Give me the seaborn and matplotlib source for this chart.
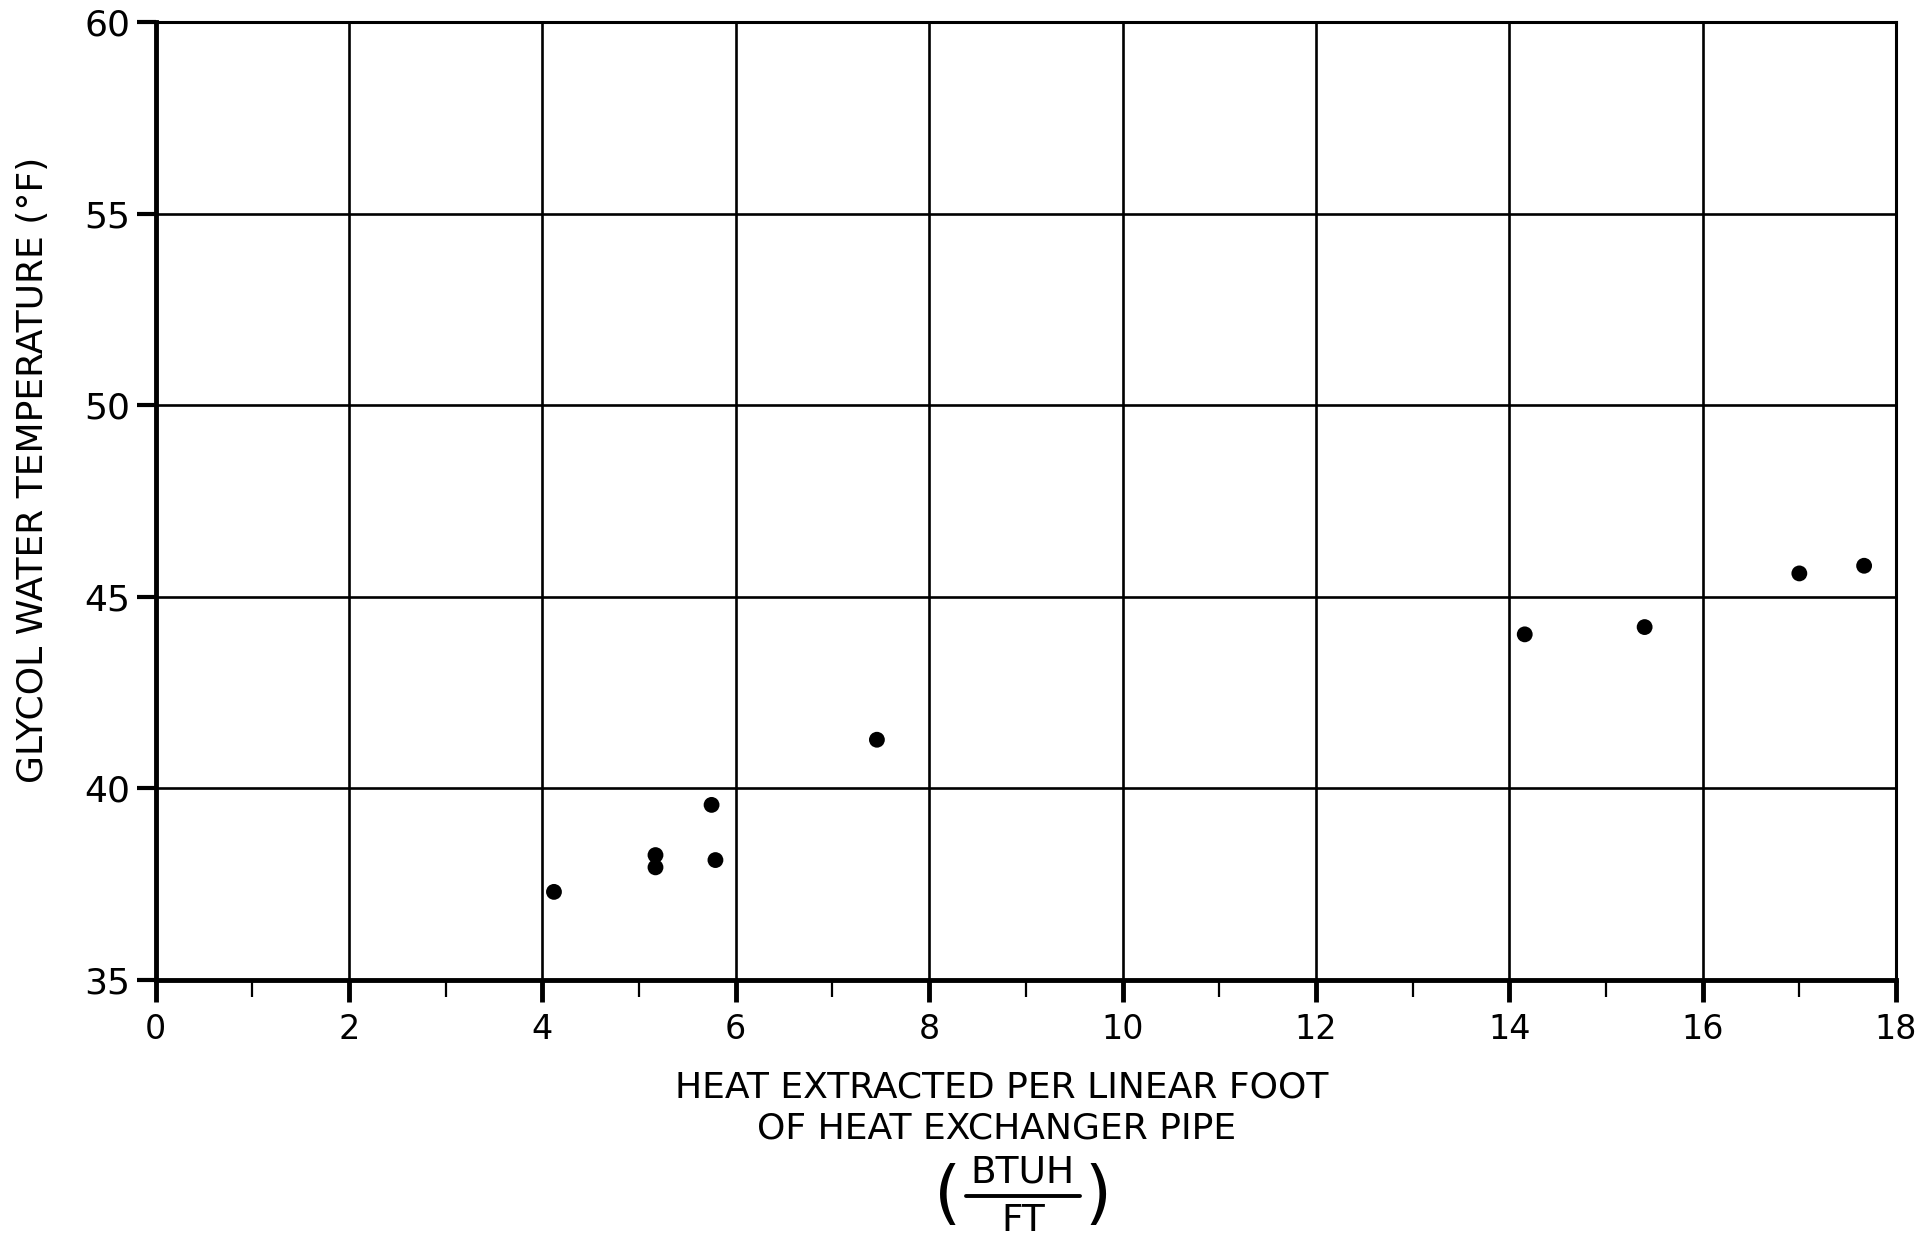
import matplotlib
matplotlib.use("Agg")
import matplotlib.pyplot as plt
import seaborn as sns
import pandas as pd
from matplotlib.lines import Line2D
from matplotlib.ticker import MultipleLocator

# heat extracted per linear foot (BTUH/FT) vs glycol water temperature (F)
heat_btuh_ft = [4.12, 5.17, 5.17, 5.75, 5.79, 7.46, 14.16, 15.40, 17.00, 17.67]
glycol_temp_f = [37.30, 38.26, 37.94, 39.57, 38.13, 41.27, 44.02, 44.21, 45.61, 45.81]

x_ticks = [0, 2, 4, 6, 8, 10, 12, 14, 16, 18]
x_tick_labels = ["0", "2", "4", "6", "8", "10", "12", "14", "16", "18"]
y_ticks = [35, 40, 45, 50, 55, 60]

df = pd.DataFrame({"heat": heat_btuh_ft, "temp": glycol_temp_f})

sns.set_style("white")
plt.rcParams["font.family"] = ["DejaVu Sans"]
plt.rcParams["text.color"] = "black"
plt.rcParams["xtick.color"] = "black"
plt.rcParams["ytick.color"] = "black"

fig = plt.figure(figsize=(19.21, 12.41), dpi=100)
ax = fig.add_axes([0.081, 0.2103, 0.906, 0.772])

sns.scatterplot(data=df, x="heat", y="temp", ax=ax, color="black",
                s=130, edgecolor="none", zorder=5)

ax.set_xlim(0, 18)
ax.set_ylim(35, 60)
ax.set_xticks(x_ticks)
ax.set_xticklabels(x_tick_labels)
ax.set_yticks(y_ticks)
ax.xaxis.set_minor_locator(MultipleLocator(1))

ax.grid(True, which="major", color="black", linewidth=1.9)
ax.set_axisbelow(True)

for side in ["top", "right"]:
    ax.spines[side].set_linewidth(2.2)
for side in ["left", "bottom"]:
    ax.spines[side].set_linewidth(3.5)
for sp in ax.spines.values():
    sp.set_color("black")
    sp.set_visible(True)

ax.tick_params(axis="x", which="major", direction="out", length=16, width=3.5,
               labelsize=24, pad=8, labelcolor="black", bottom=True)
ax.tick_params(axis="x", which="minor", direction="out", length=12, width=1.6,
               bottom=True)
ax.tick_params(axis="y", which="major", direction="out", length=14, width=3.0,
               labelsize=26, pad=4, labelcolor="black", left=True)
ax.set_xlabel("")
ax.set_ylabel("")

# axis titles, hand lettered style
fig.text(0.0172, 0.621, "GLYCOL WATER TEMPERATURE (°F)", rotation=90,
         ha="center", va="center", fontsize=26, color="black")
fig.text(0.5216, 0.124, "HEAT EXTRACTED PER LINEAR FOOT",
         ha="center", va="center", fontsize=26, color="black")
fig.text(0.519, 0.091, "OF HEAT EXCHANGER PIPE",
         ha="center", va="center", fontsize=26, color="black")
fig.text(0.5325, 0.0555, "BTUH", ha="center", va="center", fontsize=27,
         color="black")
fig.text(0.5325, 0.0165, "FT", ha="center", va="center", fontsize=27,
         color="black")
fig.add_artist(Line2D([0.503, 0.562], [0.036, 0.036], color="black",
                      linewidth=2.8, transform=fig.transFigure))
fig.text(0.4935, 0.036, "(", ha="center", va="center", fontsize=50,
         color="black")
fig.text(0.5715, 0.036, ")", ha="center", va="center", fontsize=50,
         color="black")

fig.savefig("out.png", dpi=100, facecolor="white")
